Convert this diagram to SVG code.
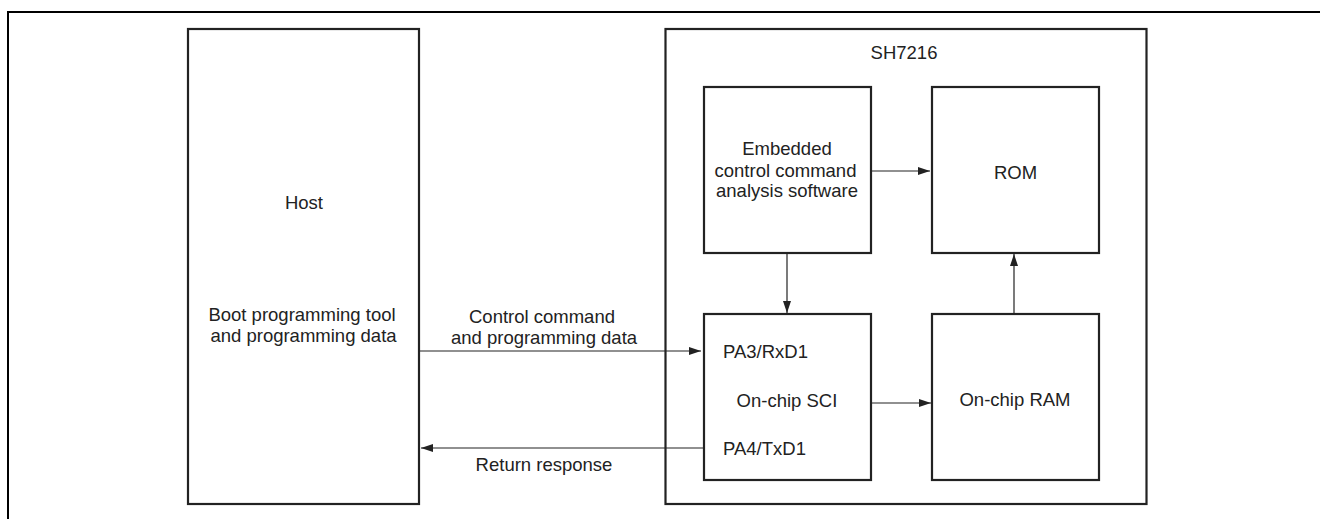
<svg xmlns="http://www.w3.org/2000/svg" width="1320" height="519" viewBox="0 0 1320 519">
<style>
.box{fill:none;stroke:#222;stroke-width:2.2}
.frame{fill:none;stroke:#000;stroke-width:2}
.conn{fill:none;stroke:#222;stroke-width:1.2}
text{font-family:"Liberation Sans",Arial,sans-serif;font-size:18.5px;fill:#222}
.c{text-anchor:middle}
</style>
<defs>
<marker id="arr" markerUnits="userSpaceOnUse" markerWidth="13" markerHeight="9" refX="12" refY="4" orient="auto">
<path d="M0,0 L12,4 L0,8 z" fill="#222"/>
</marker>
</defs>
<path class="frame" d="M8,519 V12 H1320"/>
<g id="host">
<rect class="box" x="188" y="29" width="231" height="475"/>
<text class="c" x="304" y="209">Host</text>
<text class="c" x="302" y="321">Boot programming tool</text>
<text class="c" x="303.5" y="342">and programming data</text>
</g>
<g id="sh7216">
<rect class="box" x="665.5" y="29" width="481" height="475"/>
<text class="c" x="904" y="59">SH7216</text>
</g>
<g id="embedded">
<rect class="box" x="704" y="87" width="167" height="166"/>
<text class="c" x="787" y="155">Embedded</text>
<text class="c" x="785.5" y="177">control command</text>
<text class="c" x="787" y="197">analysis software</text>
</g>
<g id="rom">
<rect class="box" x="932" y="87" width="167" height="166"/>
<text class="c" x="1015.5" y="179">ROM</text>
</g>
<g id="sci">
<rect class="box" x="704" y="314" width="167" height="166"/>
<text x="723" y="358">PA3/RxD1</text>
<text class="c" x="787" y="407">On-chip SCI</text>
<text x="723" y="455">PA4/TxD1</text>
</g>
<g id="ram">
<rect class="box" x="932" y="314" width="167" height="166"/>
<text class="c" x="1015" y="406">On-chip RAM</text>
</g>
<g id="connectors">
<path class="conn" d="M419,351 H701" marker-end="url(#arr)"/>
<path class="conn" d="M703,448 H421" marker-end="url(#arr)"/>
<path class="conn" d="M787,253 V313" marker-end="url(#arr)"/>
<path class="conn" d="M871,403 H931" marker-end="url(#arr)"/>
<path class="conn" d="M1014,314 V254" marker-end="url(#arr)"/>
<path class="conn" d="M871,171 H930" marker-end="url(#arr)"/>
<text class="c" x="542" y="323">Control command</text>
<text class="c" x="544" y="344">and programming data</text>
<text class="c" x="544" y="471">Return response</text>
</g>
</svg>
